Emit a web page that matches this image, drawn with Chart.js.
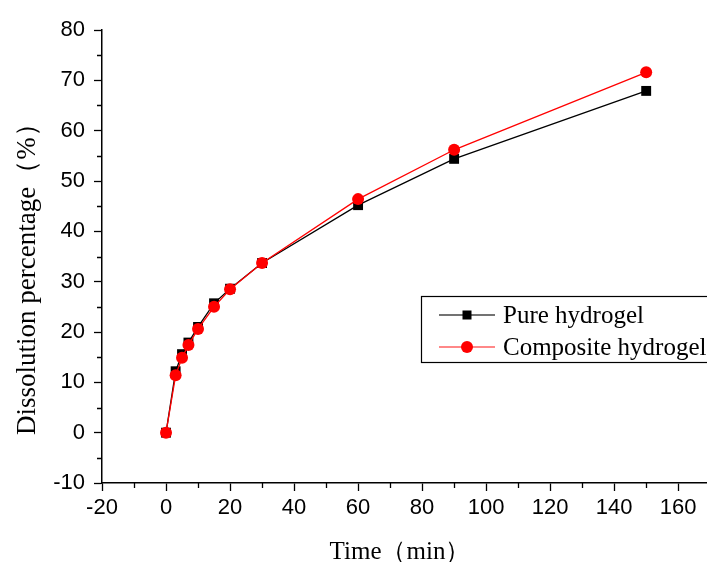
<!DOCTYPE html>
<html>
<head>
<meta charset="utf-8">
<script src="https://cdn.jsdelivr.net/npm/chart.js@4.4.0/dist/chart.umd.min.js"></script>
<style>
  html, body { margin: 0; padding: 0; background: #fff; overflow: hidden; }
  #wrap { width: 707px; height: 562px; overflow: hidden; }
  canvas { display: block; }
</style>
</head>
<body>
<div id="wrap"><canvas id="dissolutionChart" width="714" height="562"></canvas></div>
<script>
// Zeitpunkte (min)
const timePoints = [0, 3, 5, 7, 10, 15, 20, 30, 60, 90, 150];
// Auflösung in Prozent
const pureHydrogel = [0, 12.2, 15.6, 17.9, 21.0, 25.7, 28.6, 33.7, 45.2, 54.4, 67.9];
const compositeHydrogel = [0, 11.4, 14.9, 17.4, 20.6, 25.0, 28.5, 33.7, 46.4, 56.2, 71.6];
const seriesNames = ['Pure hydrogel', 'Composite hydrogel'];
const xTickLabels = [-20, 0, 20, 40, 60, 80, 100, 120, 140, 160];
const yTickLabels = [-10, 0, 10, 20, 30, 40, 50, 60, 70, 80];
const xTitle = 'Time（min）';
const yTitle = 'Dissolution percentage（%）';

const toPoints = (values) => timePoints.map((t, i) => ({ x: t, y: values[i] }));

const serif = '"Liberation Serif", "Times New Roman", serif';

// kleine Striche zwischen den Hauptticks
const minorTicks = {
    id: 'minorTicks',
    afterDraw(chart) {
        const { ctx, scales: { x, y } } = chart;
        ctx.save();
        ctx.strokeStyle = '#000';
        ctx.lineWidth = 1.3;
        ctx.beginPath();
        for (let v = -10; v <= 170; v += 20) {
            const px = Math.round(x.getPixelForValue(v)) + 0.5;
            if (px > chart.width) continue;
            ctx.moveTo(px, y.bottom);
            ctx.lineTo(px, y.bottom + 5);
        }
        for (let v = -5; v <= 75; v += 10) {
            const py = Math.round(y.getPixelForValue(v)) + 0.5;
            ctx.moveTo(x.left, py);
            ctx.lineTo(x.left - 5, py);
        }
        ctx.stroke();
        ctx.restore();
    }
};

// Achsentitel
const axisTitles = {
    id: 'axisTitles',
    afterDraw(chart) {
        const ctx = chart.ctx;
        ctx.save();
        ctx.fillStyle = '#000';
        ctx.font = '25px ' + serif;
        ctx.textAlign = 'center';
        ctx.textBaseline = 'alphabetic';
        ctx.fillText(xTitle, 400, 559);
        ctx.font = '27px ' + serif;
        ctx.textAlign = 'left';
        ctx.translate(35, 435);
        ctx.rotate(-Math.PI / 2);
        ctx.fillText(yTitle, 0, 0);
        ctx.restore();
    }
};

// Legende im Diagramm (Kasten rechts)
const boxLegend = {
    id: 'boxLegend',
    afterDraw(chart) {
        const ctx = chart.ctx;
        const left = 421, top = 296, w = 320, h = 66;
        ctx.save();
        ctx.fillStyle = '#fff';
        ctx.fillRect(left, top, w, h);
        ctx.strokeStyle = '#000';
        ctx.lineWidth = 1.2;
        ctx.strokeRect(left + 0.5, top + 0.5, w, h);
        ctx.font = '25px ' + serif;
        ctx.textBaseline = 'middle';
        const rows = [
            { label: seriesNames[0], color: '#000', line: '#444', shape: 'rect', y: top + 19 },
            { label: seriesNames[1], color: '#ff0000', line: '#ff6060', shape: 'circle', y: top + 51 }
        ];
        rows.forEach(r => {
            ctx.strokeStyle = r.line;
            ctx.lineWidth = 1.3;
            ctx.beginPath();
            ctx.moveTo(439, r.y);
            ctx.lineTo(495, r.y);
            ctx.stroke();
            ctx.fillStyle = r.color;
            if (r.shape === 'rect') {
                ctx.fillRect(467 - 4.5, r.y - 4.5, 9, 9);
            } else {
                ctx.beginPath();
                ctx.arc(467, r.y, 6, 0, Math.PI * 2);
                ctx.fill();
            }
            ctx.fillStyle = '#000';
            ctx.fillText(r.label, 503, r.y + 1);
        });
        ctx.restore();
    }
};

const ctx = document.getElementById('dissolutionChart').getContext('2d');
new Chart(ctx, {
    type: 'line',
    data: {
        datasets: [
            {
                label: seriesNames[0],
                data: toPoints(pureHydrogel),
                borderColor: '#000',
                backgroundColor: '#000',
                borderWidth: 1.3,
                pointStyle: 'rect',
                pointRadius: 7,
                pointBorderWidth: 0,
                order: 1
            },
            {
                label: seriesNames[1],
                data: toPoints(compositeHydrogel),
                borderColor: '#ff0000',
                backgroundColor: '#ff0000',
                borderWidth: 1.3,
                pointStyle: 'circle',
                pointRadius: 6,
                pointBorderWidth: 0,
                order: 0
            }
        ]
    },
    options: {
        responsive: false,
        animation: false,
        events: [],
        layout: { padding: { top: 30, right: 0, bottom: 0, left: 0 } },
        plugins: {
            legend: { display: false },
            tooltip: { enabled: false }
        },
        scales: {
            x: {
                type: 'linear',
                min: -20,
                max: 169,
                afterBuildTicks: (scale) => { scale.ticks = xTickLabels.map(v => ({ value: v })); },
                afterFit: (scale) => { scale.height = 79; },
                border: { display: true, color: '#000', width: 1.5 },
                grid: { drawOnChartArea: false, drawTicks: true, tickLength: 8, tickColor: '#000', tickWidth: 1.3 },
                ticks: {
                    color: '#000',
                    padding: 4,
                    maxRotation: 0,
                    autoSkip: false,
                    font: { family: '"Liberation Sans", Arial, sans-serif', size: 22 }
                },
                title: { display: false }
            },
            y: {
                type: 'linear',
                min: -10,
                max: 80,
                afterBuildTicks: (scale) => { scale.ticks = yTickLabels.map(v => ({ value: v })); },
                afterFit: (scale) => { scale.width = 102; },
                border: { display: true, color: '#000', width: 1.5 },
                grid: { drawOnChartArea: false, drawTicks: true, tickLength: 8, tickColor: '#000', tickWidth: 1.3 },
                ticks: {
                    color: '#000',
                    padding: 9,
                    autoSkip: false,
                    font: { family: '"Liberation Sans", Arial, sans-serif', size: 22 }
                },
                title: { display: false }
            }
        }
    },
    plugins: [minorTicks, axisTitles, boxLegend]
});
</script>
</body>
</html>
